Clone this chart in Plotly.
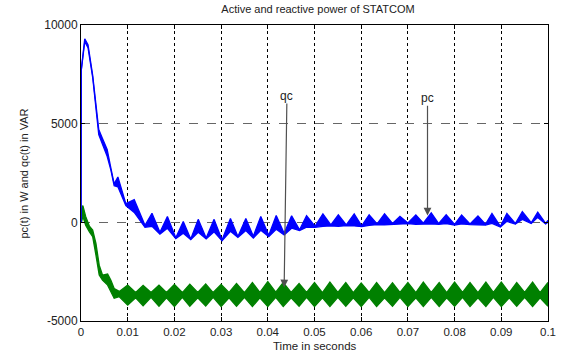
import plotly.graph_objects as go

# ---------------- data ----------------
# pc(t): active power (blue) - vertices of upper / lower edge of the rippled band
t_pc = [0.0000, 0.00005, 0.0008, 0.0015, 0.0025, 0.0032, 0.0038, 0.0046, 0.0056, 0.0064,
        0.0071, 0.0079, 0.0086, 0.0096, 0.0114, 0.0137, 0.0152, 0.0169, 0.0185, 0.0203,
        0.0219, 0.0235, 0.0251, 0.0268, 0.0285, 0.0302, 0.0320, 0.0336, 0.0353, 0.0369,
        0.0385, 0.0402, 0.0418, 0.0435, 0.0451, 0.0468, 0.0483, 0.0501, 0.0518, 0.0535,
        0.0551, 0.0568, 0.0585, 0.0601, 0.0617, 0.0634, 0.0650, 0.0667, 0.0683, 0.0700,
        0.0717, 0.0733, 0.0750, 0.0766, 0.0782, 0.0800, 0.0815, 0.0833, 0.0850, 0.0866,
        0.0880, 0.0898, 0.0912, 0.0930, 0.0945, 0.0964, 0.0978, 0.0995, 0.1000]
pc_upper = [0, 7700, 9300, 9000, 7450, 5800, 4700, 4250, 3700, 2750,
            1950, 2300, 1700, 950, 1150, -150, 460, -500, 290, -780,
            40, -840, 150, -800, 150, -900, 200, -720, 200, -700,
            300, -650, 350, -550, 330, -380, 330, -200, 430, -130,
            380, -130, 430, -180, 380, -80, 430, -60, 300, -30,
            380, -40, 480, -60, 380, -100, 370, -80, 320, -100,
            450, -200, 450, -60, 540, -20, 520, -50, 100]
pc_lower = [0, 7700, 9150, 8850, 7350, 5650, 4450, 3950, 3350, 2650,
            1850, 1800, 1400, 850, 500, -250, -200, -600, -300, -830,
            -550, -880, -500, -840, -480, -940, -450, -760, -420, -800,
            -400, -730, -350, -640, -300, -420, -250, -250, -200, -180,
            -200, -170, -180, -220, -150, -120, -130, -100, -100, -60,
            -100, -80, -80, -100, -60, -140, -80, -120, -130, -140,
            -50, -240, 50, -90, 150, -60, 250, -80, 0]

# qc(t): reactive power (green) - vertices of upper / lower edge of the rippled band
t_qc = [0.0000, 0.0001, 0.0004, 0.0010, 0.0018, 0.0025, 0.0032, 0.0039, 0.0046, 0.0057,
        0.0064, 0.0071, 0.0082,
        0.0100, 0.0117, 0.0133, 0.0150, 0.0167, 0.0183, 0.0200, 0.0217, 0.0233, 0.0250,
        0.0267, 0.0283, 0.0300, 0.0317, 0.0333, 0.0350, 0.0367, 0.0383, 0.0400, 0.0417,
        0.0433, 0.0450, 0.0467, 0.0483, 0.0500, 0.0517, 0.0533, 0.0550, 0.0567, 0.0583,
        0.0600, 0.0617, 0.0633, 0.0650, 0.0667, 0.0683, 0.0700, 0.0717, 0.0733, 0.0750,
        0.0767, 0.0783, 0.0800, 0.0817, 0.0833, 0.0850, 0.0867, 0.0883, 0.0900, 0.0917,
        0.0933, 0.0950, 0.0967, 0.0983, 0.1000]
qc_upper = [0, 650, 850, 300, -200, -390, -1070, -2170, -2670, -2620,
            -2930, -3350, -3500,
            -3180, -3550, -3200, -3560, -3180, -3550, -3150, -3560, -3130, -3550,
            -3120, -3560, -3150, -3550, -3100, -3560, -3050, -3550, -3000, -3540,
            -3050, -3550, -3100, -3550, -3050, -3560, -3030, -3550, -3050, -3560,
            -3080, -3550, -3050, -3560, -3070, -3550, -3050, -3560, -3030, -3550,
            -3050, -3560, -3030, -3550, -3050, -3560, -3030, -3550, -3030, -3560,
            -3050, -3550, -3030, -3560, -3050]
qc_lower = [0, 0, 300, -150, -480, -730, -1660, -2670, -2930, -3180,
            -3520, -3850, -3770,
            -4200, -3820, -4230, -3800, -4250, -3820, -4260, -3800, -4250, -3820,
            -4240, -3800, -4260, -3820, -4250, -3800, -4270, -3820, -4260, -3800,
            -4270, -3820, -4250, -3800, -4260, -3820, -4270, -3800, -4250, -3820,
            -4260, -3800, -4270, -3820, -4250, -3800, -4260, -3820, -4270, -3800,
            -4260, -3820, -4250, -3800, -4270, -3820, -4260, -3800, -4270, -3820,
            -4250, -3800, -4260, -3820, -4250]

x_ticks = [0, 0.01, 0.02, 0.03, 0.04, 0.05, 0.06, 0.07, 0.08, 0.09, 0.1]
x_tick_labels = ["0", "0.01", "0.02", "0.03", "0.04", "0.05", "0.06", "0.07", "0.08", "0.09", "0.1"]
y_ticks = [-5000, 0, 5000, 10000]
y_tick_labels = ["-5000", "0", "5000", "10000"]

# annotation arrows: label, tail (text) position, head position
arrow_labels = ["qc", "pc"]
arrow_tail_t = [0.0441, 0.0742]
arrow_tail_v = [6400, 6290]
arrow_head_t = [0.0435, 0.0742]
arrow_head_v = [-3300, 350]

title_text = "Active and reactive power of STATCOM"
x_label = "Time in seconds"
y_label = "pc(t) in W and qc(t) in VAR"

# ---------------- figure ----------------
FONT = "Liberation Sans, Arial, sans-serif"
BLUE = "rgb(0,0,255)"
GREEN = "rgb(0,128,0)"

fig = go.Figure()
for t, lo, up, col in [(t_qc, qc_lower, qc_upper, GREEN), (t_pc, pc_lower, pc_upper, BLUE)]:
    fig.add_trace(go.Scatter(x=t, y=lo, mode="lines", line=dict(color=col, width=1.3),
                             hoverinfo="skip", showlegend=False))
    fig.add_trace(go.Scatter(x=t, y=up, mode="lines", line=dict(color=col, width=1.3),
                             fill="tonexty", fillcolor=col, hoverinfo="skip", showlegend=False))

annotations = []
for lab, tx, ty, hx, hy in zip(arrow_labels, arrow_tail_t, arrow_tail_v, arrow_head_t, arrow_head_v):
    annotations.append(dict(x=hx, y=hy, ax=tx, ay=ty, xref="x", yref="y", axref="x", ayref="y",
                            text=lab, showarrow=True, arrowhead=2, arrowsize=1.3, arrowwidth=1.2,
                            arrowcolor="#505050", font=dict(family=FONT, size=12, color="#222"),
                            borderpad=0))
annotations.append(dict(x=0.5, y=-0.086, xref="paper", yref="paper", text=x_label, showarrow=False,
                        xanchor="center", yanchor="middle", font=dict(family=FONT, size=11.5, color="#222")))
annotations.append(dict(x=-0.121, y=0.5, xref="paper", yref="paper", text=y_label, showarrow=False,
                        textangle=-90, xanchor="center", yanchor="middle",
                        font=dict(family=FONT, size=11, color="#222")))

fig.update_layout(
    width=568, height=356,
    margin=dict(l=81, r=13, t=25, b=35),
    paper_bgcolor="white", plot_bgcolor="white",
    title=dict(text=title_text, x=(81 + 555) / 2 / 568, xanchor="center", y=1 - 9 / 356,
               yanchor="middle", yref="container", font=dict(family=FONT, size=11, color="#222")),
    annotations=annotations,
    xaxis=dict(range=[0, 0.1], tickvals=x_ticks, ticktext=x_tick_labels,
               showgrid=True, gridcolor="black", griddash="dot", gridwidth=1,
               showline=True, linecolor="black", linewidth=1, mirror="ticks",
               ticks="inside", ticklen=4, tickcolor="black", zeroline=False,
               tickfont=dict(family=FONT, size=11.5, color="#222")),
    yaxis=dict(range=[-5000, 10000], tickvals=y_ticks, ticktext=y_tick_labels,
               showgrid=True, gridcolor="#666", griddash="dash", gridwidth=1,
               showline=True, linecolor="black", linewidth=1, mirror="ticks",
               ticks="inside", ticklen=4, tickcolor="black", zeroline=False,
               tickfont=dict(family=FONT, size=12, color="#222")),
)

fig.write_html("out.html", config={"displayModeBar": False},
               post_script="document.body.style.margin='0';document.body.style.padding='0';")
